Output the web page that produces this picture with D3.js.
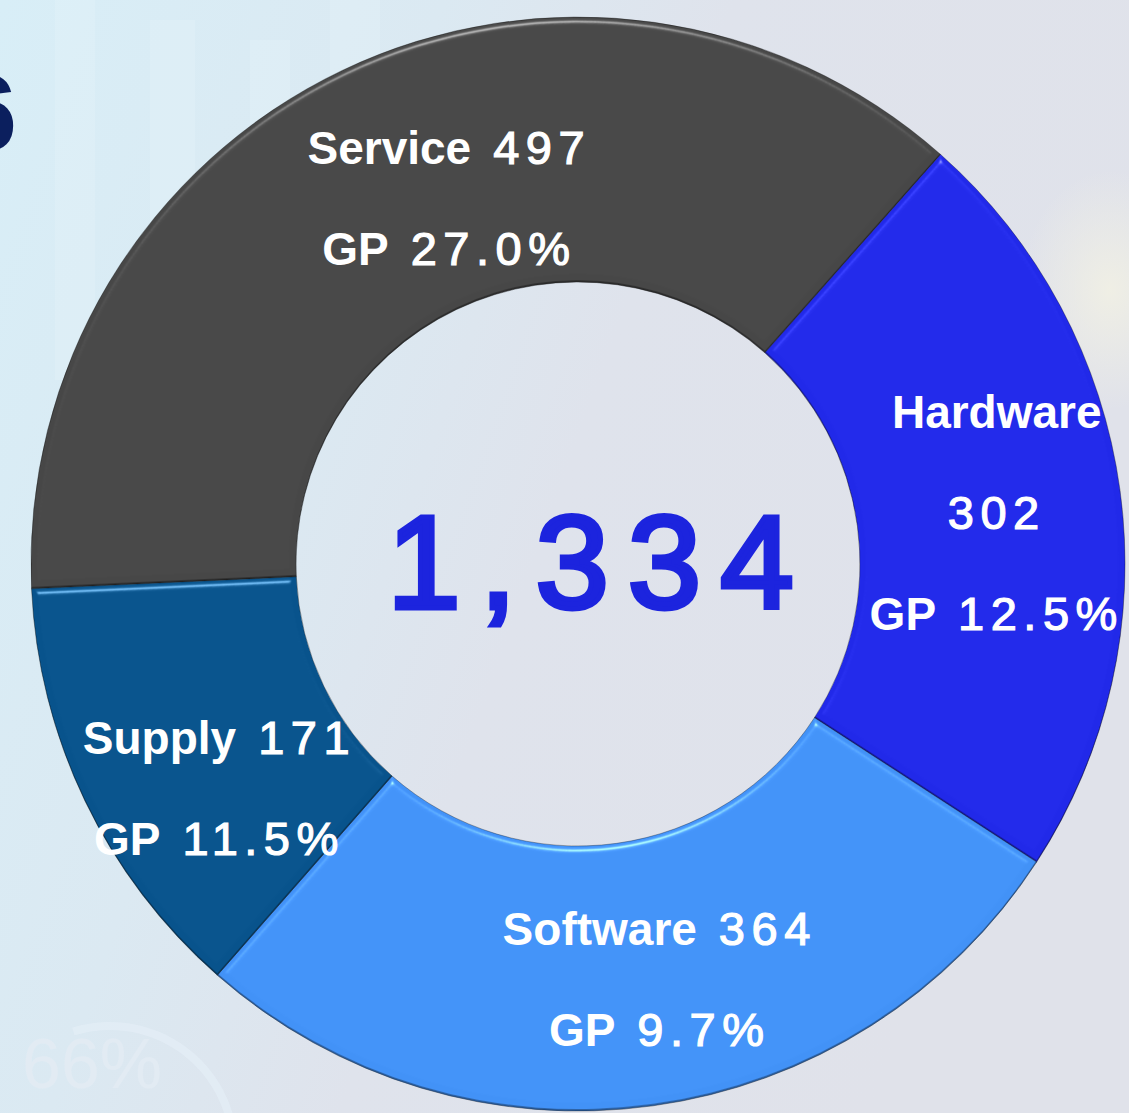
<!DOCTYPE html>
<html>

<head>
    <meta charset="UTF-8">
    <title>Revenue by Business Line</title>
    <style>
        body { margin: 0; background: #dfe2eb; overflow: hidden; }
    </style>
</head>

<body>
    <svg id="chart"></svg>
    <script src="https://d3js.org/d3.v7.min.js"></script>
    <script>
        // chart data
        const categories = ["Service", "Hardware", "Software", "Supply"];
        const revenue = [497, 302, 364, 171];
        const grossProfit = [27.0, 12.5, 9.7, 11.5];

        // styling, kept apart from the data
        const sliceColors = ["#474747", "#2129e9", "#4292f7", "#08538c"];
        const labelNudge = [[50, 8], [8, 4], [25, 4], [15, 44]];

        let width = 1129,
            height = 1113;

        let svg = d3.select("#chart")
            .attr("width", width)
            .attr("height", height);

        const cx = 578, cy = 564;
        const outerR = 547, innerR = 282;

        const defs = svg.append("defs");

        // faded dashboard backdrop
        const bg = defs.append("linearGradient").attr("id", "bg")
            .attr("x1", 0).attr("y1", 0).attr("x2", 1).attr("y2", 0.35);
        bg.append("stop").attr("offset", "0%").attr("stop-color", "#d8eef7");
        bg.append("stop").attr("offset", "35%").attr("stop-color", "#dbe9f2");
        bg.append("stop").attr("offset", "58%").attr("stop-color", "#dfe3ec");
        bg.append("stop").attr("offset", "100%").attr("stop-color", "#e0e2ea");

        const glow = defs.append("radialGradient").attr("id", "glow");
        glow.append("stop").attr("offset", "0%").attr("stop-color", "#f1f0e4").attr("stop-opacity", 0.9);
        glow.append("stop").attr("offset", "100%").attr("stop-color", "#f1f0e4").attr("stop-opacity", 0);

        // bevel: light from above, thin shade on the lower edges
        const bevel = defs.append("filter").attr("id", "bevel")
            .attr("color-interpolation-filters", "sRGB")
            .attr("x", "-5%").attr("y", "-5%").attr("width", "110%").attr("height", "110%");
        bevel.append("feGaussianBlur").attr("in", "SourceAlpha").attr("stdDeviation", 3).attr("result", "blur");
        const spec = bevel.append("feSpecularLighting").attr("in", "blur")
            .attr("surfaceScale", 5).attr("specularConstant", 0.9)
            .attr("specularExponent", 40).attr("lighting-color", "#ffffff").attr("result", "spec");
        spec.append("feDistantLight").attr("azimuth", 262).attr("elevation", 40);
        bevel.append("feComposite").attr("in", "spec").attr("in2", "SourceAlpha")
            .attr("operator", "in").attr("result", "specOut");
        bevel.append("feComposite").attr("in", "SourceGraphic").attr("in2", "specOut")
            .attr("operator", "arithmetic").attr("k1", 0).attr("k2", 1).attr("k3", 0.45).attr("k4", 0)
            .attr("result", "lit");
        bevel.append("feOffset").attr("in", "SourceAlpha").attr("dx", 0).attr("dy", -2).attr("result", "off");
        bevel.append("feComposite").attr("in", "SourceAlpha").attr("in2", "off")
            .attr("operator", "out").attr("result", "edge");
        bevel.append("feFlood").attr("flood-color", "#000000").attr("flood-opacity", 0.35);
        bevel.append("feComposite").attr("in2", "edge").attr("operator", "in").attr("result", "shade");
        const merge = bevel.append("feMerge");
        merge.append("feMergeNode").attr("in", "lit");
        merge.append("feMergeNode").attr("in", "shade");

        svg.append("rect").attr("width", width).attr("height", height).attr("fill", "url(#bg)");

        // ghost bars of the backdrop picture
        const ghost = svg.append("g").attr("opacity", 0.35);
        [[55, 0, 40, 380], [150, 20, 45, 360], [250, 40, 40, 340], [330, 0, 50, 220], [410, 40, 40, 200]]
            .forEach(b => ghost.append("rect")
                .attr("x", b[0]).attr("y", b[1]).attr("width", b[2]).attr("height", b[3])
                .attr("fill", "#e6f4fa"));
        svg.append("ellipse").attr("cx", 1110).attr("cy", 290).attr("rx", 90).attr("ry", 120)
            .attr("fill", "url(#glow)");
        svg.append("path")
            .attr("d", d3.arc()({ innerRadius: 120, outerRadius: 128, startAngle: -0.3, endAngle: 1.9 }))
            .attr("transform", "translate(110,1150)")
            .attr("fill", "#e4eef6").attr("opacity", 0.7);
        svg.append("text").attr("x", 22).attr("y", 1088)
            .attr("font-family", "Liberation Sans, Arial, sans-serif").attr("font-size", 70)
            .attr("fill", "#e4ecf4").attr("opacity", 0.8).text("66%");

        // cut-off title character at the left edge
        svg.append("text").attr("x", 17).attr("y", 150)
            .attr("text-anchor", "end")
            .attr("font-family", "Liberation Sans, Arial, sans-serif")
            .attr("font-weight", "bold").attr("font-size", 108)
            .attr("fill", "#0b1f5e").text("6");

        const pie = d3.pie()
            .sort(null)
            .startAngle(-92.6 * Math.PI / 180)
            .endAngle(-92.6 * Math.PI / 180 + 2 * Math.PI);

        const arc = d3.arc()
            .innerRadius(innerR)
            .outerRadius(outerR);

        const arcs = pie(revenue);

        const g = svg.append("g").attr("transform", `translate(${cx},${cy})`);

        g.append("g")
            .selectAll("path")
            .data(arcs)
            .enter().append("path")
            .attr("d", arc)
            .attr("fill", (d, i) => sliceColors[i])
            .attr("stroke", "rgba(0,0,0,0.3)")
            .attr("stroke-width", 1)
            .attr("filter", "url(#bevel)");

        // slice labels
        const fmt = d3.format(".1f");
        const labelLines = categories.map((c, i) => {
            const gp = [{ w: "GP", n: fmt(grossProfit[i]) + "%" }];
            if (c === "Hardware") return [{ w: c, n: "" }, { w: "", n: String(revenue[i]) }].concat(gp);
            return [{ w: c, n: String(revenue[i]) }].concat(gp);
        });

        const lineGap = 101;
        arcs.forEach((d, i) => {
            const [x, y] = arc.centroid(d);
            const lines = labelLines[i];
            const top = y + labelNudge[i][1] - (lines.length - 1) * lineGap / 2;
            const t = g.append("text")
                .attr("text-anchor", "middle")
                .attr("fill", "#ffffff")
                .attr("font-family", "Liberation Sans, Arial, sans-serif")
                .attr("font-size", 46);
            lines.forEach((ln, k) => {
                const row = t.append("tspan")
                    .attr("x", x + labelNudge[i][0])
                    .attr("y", top + k * lineGap)
                    .attr("dy", "0.36em");
                if (ln.w) row.append("tspan").attr("font-weight", "bold").text(ln.w);
                if (ln.n) row.append("tspan")
                    .attr("dx", ln.w ? 22 : 0)
                    .attr("font-size", 47)
                    .attr("letter-spacing", 6.5)
                    .attr("stroke", "#ffffff").attr("stroke-width", 1.2)
                    .text(ln.n);
            });
        });

        // total in the hole
        g.append("text")
            .attr("text-anchor", "middle")
            .attr("x", 22)
            .attr("y", -4)
            .attr("dy", "0.36em")
            .attr("font-family", "Liberation Sans, Arial, sans-serif")
            .attr("font-size", 132)
            .attr("letter-spacing", 19)
            .attr("fill", "#1c24de")
            .attr("stroke", "#1c24de").attr("stroke-width", 5)
            .text(d3.format(",")(d3.sum(revenue)));
    </script>
</body>

</html>
